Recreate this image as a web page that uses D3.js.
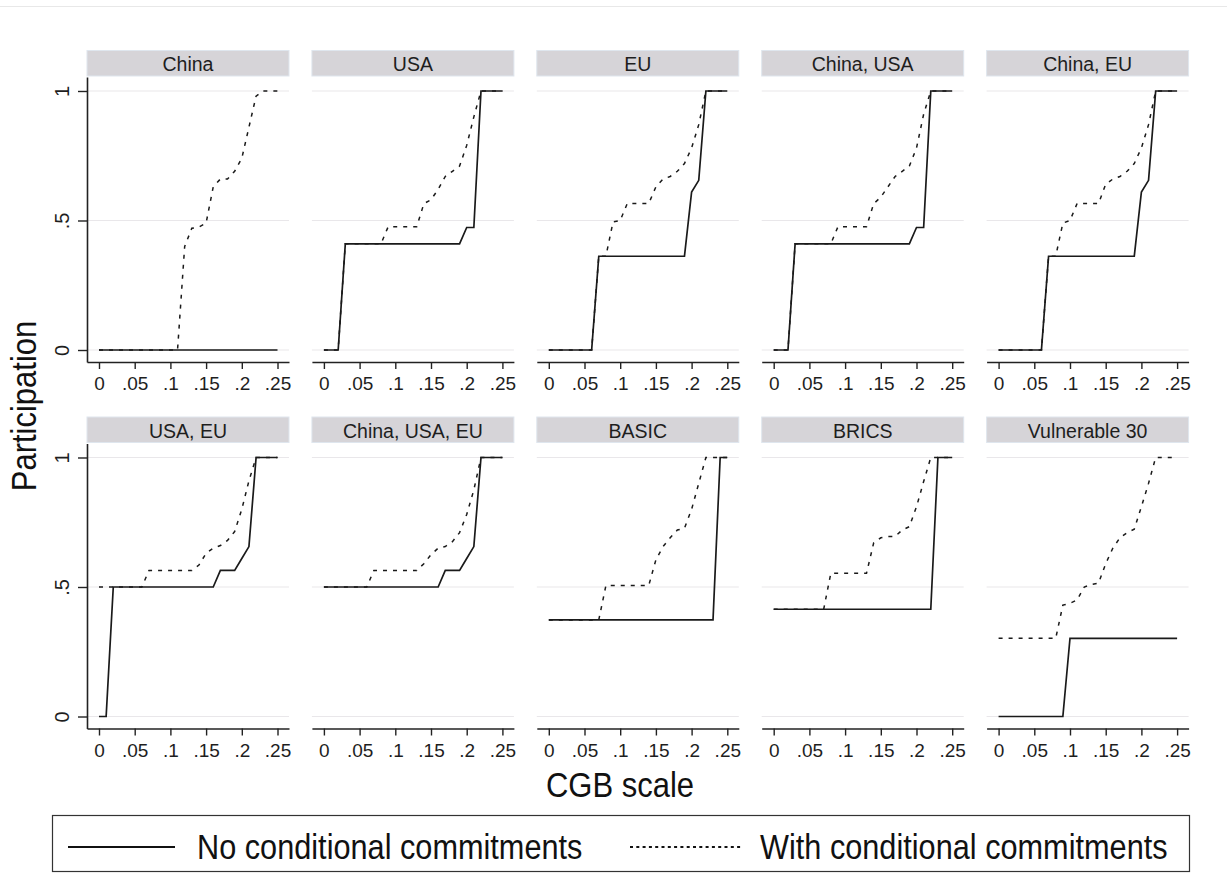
<!DOCTYPE html>
<html><head><meta charset="utf-8">
<script src="https://cdn.jsdelivr.net/npm/d3@7"></script>
<style>body{margin:0;background:#fff;} svg{display:block;}</style>
</head><body>
<script>
// ---------- data ----------
const panelNames = ["China","USA","EU","China, USA","China, EU","USA, EU","China, USA, EU","BASIC","BRICS","Vulnerable 30"];
const cgb = [0,.01,.02,.03,.04,.05,.06,.07,.08,.09,.10,.11,.12,.13,.14,.15,.16,.17,.18,.19,.20,.21,.22,.23,.24,.25];
const xTicks = [0,.05,.1,.15,.2,.25];
const xTickLabels = ["0",".05",".1",".15",".2",".25"];
const yTicks = [0,.5,1];
const yTickLabels = ["0",".5","1"];
const seriesNames = ["No conditional commitments","With conditional commitments"];

const chinaNo   = [0,0,0,0,0,0,0,0,0,0,0,0,0,0,0,0,0,0,0,0,0,0,0,0,0,0];
const chinaWith = [0,0,0,0,0,0,0,0,0,0,0,0,.40,.47,.475,.49,.63,.66,.66,.69,.74,.86,.98,1,1,1];
const usaNo     = [0,0,0,.41,.41,.41,.41,.41,.41,.41,.41,.41,.41,.41,.41,.41,.41,.41,.41,.41,.473,.473,1,1,1,1];
const usaWith   = [0,0,0,.41,.41,.41,.41,.41,.41,.476,.476,.476,.476,.476,.565,.58,.62,.67,.69,.71,.79,.90,1,1,1,1];
const euNo      = [0,0,0,0,0,0,0,.362,.362,.362,.362,.362,.362,.362,.362,.362,.362,.362,.362,.362,.61,.655,1,1,1,1];
const euWith    = [0,0,0,0,0,0,0,.362,.362,.495,.50,.566,.566,.566,.566,.63,.66,.67,.69,.72,.78,.87,1,1,1,1];
const chnUsaNo   = [0,0,0,.41,.41,.41,.41,.41,.41,.41,.41,.41,.41,.41,.41,.41,.41,.41,.41,.41,.473,.473,1,1,1,1];
const chnUsaWith = [0,0,0,.41,.41,.41,.41,.41,.41,.476,.476,.476,.476,.476,.565,.59,.63,.67,.69,.71,.78,.91,1,1,1,1];
const chnEuNo    = [0,0,0,0,0,0,0,.362,.362,.362,.362,.362,.362,.362,.362,.362,.362,.362,.362,.362,.61,.655,1,1,1,1];
const chnEuWith  = [0,0,0,0,0,0,0,.362,.362,.49,.50,.566,.566,.566,.566,.64,.66,.67,.69,.72,.78,.87,1,1,1,1];
const usaEuNo    = [0,0,.5,.5,.5,.5,.5,.5,.5,.5,.5,.5,.5,.5,.5,.5,.5,.564,.564,.564,.61,.656,1,1,1,1];
const usaEuWith  = [.5,.5,.5,.5,.5,.5,.5,.564,.564,.564,.564,.564,.564,.564,.585,.63,.65,.66,.68,.714,.80,.91,1,1,1,1];
const allThreeNo   = [.5,.5,.5,.5,.5,.5,.5,.5,.5,.5,.5,.5,.5,.5,.5,.5,.5,.564,.564,.564,.61,.656,1,1,1,1];
const allThreeWith = [.5,.5,.5,.5,.5,.5,.5,.564,.564,.564,.564,.564,.564,.564,.59,.625,.65,.656,.675,.71,.78,.875,1,1,1,1];
const basicNo    = [.373,.373,.373,.373,.373,.373,.373,.373,.373,.373,.373,.373,.373,.373,.373,.373,.373,.373,.373,.373,.373,.373,.373,.373,1,1];
const basicWith  = [.373,.373,.373,.373,.373,.373,.373,.373,.506,.506,.506,.506,.506,.506,.506,.605,.656,.69,.72,.727,.80,.90,1,1,1,1];
const bricsNo    = [.414,.414,.414,.414,.414,.414,.414,.414,.414,.414,.414,.414,.414,.414,.414,.414,.414,.414,.414,.414,.414,.414,.414,1,1,1];
const bricsWith  = [.414,.414,.414,.414,.414,.414,.414,.414,.553,.553,.553,.553,.553,.553,.67,.69,.695,.695,.72,.733,.81,.907,1,1,1,1];
const vuln30No   = [0,0,0,0,0,0,0,0,0,0,.302,.302,.302,.302,.302,.302,.302,.302,.302,.302,.302,.302,.302,.302,.302,.302];
const vuln30With = [.302,.302,.302,.302,.302,.302,.302,.302,.302,.43,.437,.45,.50,.51,.515,.59,.65,.69,.71,.723,.81,.90,1,1,1,1];

const noSeries   = [chinaNo, usaNo, euNo, chnUsaNo, chnEuNo, usaEuNo, allThreeNo, basicNo, bricsNo, vuln30No];
const withSeries = [chinaWith, usaWith, euWith, chnUsaWith, chnEuWith, usaEuWith, allThreeWith, basicWith, bricsWith, vuln30With];

// ---------- layout ----------
const W = 1227, H = 874;
const FONT = "'Liberation Sans', Arial, Helvetica, sans-serif";
const pw = 202, ph = 285, stripH = 26.5;
const col0 = 87, colStep = 224.9, row0 = 77, rowStep = 366.5;

const svg = d3.select("body").append("svg").attr("width", W).attr("height", H)
  .style("font-family", FONT);

// faint top rule
svg.append("line").attr("x1",0).attr("x2",W).attr("y1",6.5).attr("y2",6.5)
  .attr("stroke","#e8e8e8").attr("stroke-width",1);

const x = d3.scaleLinear().domain([-0.0168, 0.2661]).range([0, pw]);
const y = d3.scaleLinear().domain([-0.0463, 1.054]).range([ph, 0]);

const line = d3.line().x((d,i) => x(cgb[i])).y(d => y(d));

panelNames.forEach((name, k) => {
  const c = k % 5, r = Math.floor(k / 5);
  const g = svg.append("g").attr("transform", `translate(${col0 + c*colStep},${row0 + r*rowStep})`);

  // strip
  g.append("rect").attr("x", 0).attr("y", -stripH).attr("width", pw).attr("height", stripH - 1)
    .attr("fill", "#d6d4d8").attr("stroke", "#dfe6ee").attr("stroke-width", 1);
  g.append("text").attr("x", pw/2).attr("y", -6).attr("text-anchor","middle")
    .attr("font-size", 19.5).attr("fill","#1e1e1e").text(name);

  // gridlines
  g.selectAll("line.grid").data(yTicks).enter().append("line")
    .attr("x1", 0).attr("x2", pw).attr("y1", d => y(d)).attr("y2", d => y(d))
    .attr("stroke", "#e9e7ea").attr("stroke-width", 1.2);

  // x axis
  const xa = g.append("g").attr("transform", `translate(0,${ph})`)
    .call(d3.axisBottom(x).tickValues(xTicks).tickFormat((d,i) => xTickLabels[i])
      .tickSize(7).tickSizeOuter(0).tickPadding(8));
  xa.select(".domain").attr("stroke","#222").attr("stroke-width",1.6);
  xa.selectAll(".tick line").attr("stroke","#222").attr("stroke-width",1.4);
  xa.selectAll(".tick text").attr("font-size",19).attr("font-family",FONT).attr("fill","#1e1e1e");

  // y axis only on first column
  if (c === 0) {
    const ya = g.append("g").call(d3.axisLeft(y).tickValues(yTicks).tickFormat((d,i) => yTickLabels[i])
      .tickSize(9).tickSizeOuter(0));
    ya.select(".domain").attr("stroke","#222").attr("stroke-width",1.6);
    ya.selectAll(".tick line").attr("stroke","#222").attr("stroke-width",1.4);
    ya.selectAll(".tick text").attr("font-size",20).attr("font-family",FONT).attr("fill","#1e1e1e")
      .attr("transform","rotate(-90)").attr("x",0).attr("y",-18.5).attr("dy",0)
      .attr("text-anchor","middle");
  }

  // series: dashed first, solid drawn on top
  g.append("path").datum(withSeries[k]).attr("d", line)
    .attr("fill","none").attr("stroke","#1a1a1a").attr("stroke-width",1.5)
    .attr("stroke-dasharray","4,6");
  g.append("path").datum(noSeries[k]).attr("d", line)
    .attr("fill","none").attr("stroke","#1a1a1a").attr("stroke-width",1.7);
});

// axis titles
svg.append("text").attr("transform","translate(620,797) scale(1,1.12)")
  .attr("text-anchor","middle").attr("font-size",31).attr("fill","#111").text("CGB scale");
svg.append("text").attr("transform","translate(36,406) rotate(-90) scale(1,1.12)")
  .attr("text-anchor","middle").attr("font-size",31).attr("fill","#111").text("Participation");

// legend
const lg = svg.append("g");
lg.append("rect").attr("x",52.5).attr("y",815.5).attr("width",1137).attr("height",56)
  .attr("fill","#fff").attr("stroke","#333").attr("stroke-width",1.2);
lg.append("line").attr("x1",68).attr("x2",175).attr("y1",847).attr("y2",847)
  .attr("stroke","#111").attr("stroke-width",2.2);
lg.append("text").attr("transform","translate(197,859) scale(1,1.12)")
  .attr("font-size",30.7).attr("fill","#111").text(seriesNames[0]);
lg.append("line").attr("x1",630).attr("x2",742).attr("y1",847).attr("y2",847)
  .attr("stroke","#111").attr("stroke-width",1.8).attr("stroke-dasharray","3,3.3");
lg.append("text").attr("transform","translate(760,859) scale(1,1.12)")
  .attr("font-size",30.7).attr("fill","#111").text(seriesNames[1]);
</script>
</body></html>
